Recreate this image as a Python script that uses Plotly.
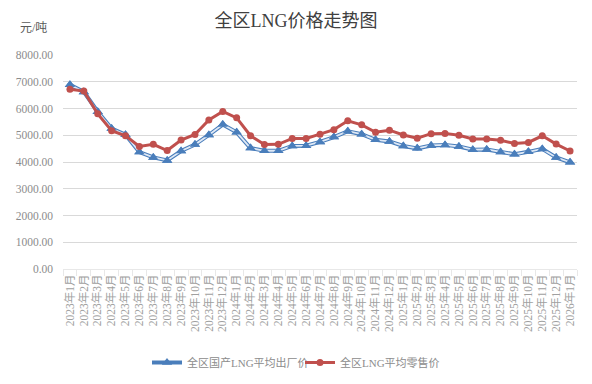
import plotly.graph_objects as go

months = [f"{y}年{m}月" for y, m in
          [(2023, i) for i in range(1, 13)] + [(2024, i) for i in range(1, 13)] +
          [(2025, i) for i in range(1, 13)] + [(2026, 1)]]

factory_price = [6890, 6620, 5880, 5250, 5020, 4370, 4170, 4060, 4410, 4650,
                 5010, 5400, 5110, 4520, 4420, 4420, 4600, 4610, 4750, 4930,
                 5150, 5040, 4830, 4770, 4600, 4510, 4620, 4640, 4580, 4460,
                 4470, 4370, 4290, 4380, 4490, 4170, 3990]
retail_price = [6720, 6650, 5800, 5170, 4980, 4580, 4660, 4430, 4820, 5030,
                5570, 5890, 5650, 4980, 4650, 4660, 4880, 4880, 5040, 5210,
                5540, 5390, 5110, 5190, 5010, 4890, 5060, 5070, 5000, 4860,
                4860, 4810, 4690, 4730, 4980, 4670, 4410]

name_factory = "全区国产LNG平均出厂价"
name_retail = "全区LNG平均零售价"
y_ticks = [0, 1000, 2000, 3000, 4000, 5000, 6000, 7000, 8000]

BLUE = "#4a7ebb"
RED = "#c0504d"
FONT = "Liberation Serif, Noto Sans CJK SC, serif"

ML, MR, MT, MB = 63, 15, 55, 115
PW, PH = 592 - ML - MR, 384 - MT - MB

fig = go.Figure()
fig.add_trace(go.Scatter(
    x=months, y=factory_price, name=name_factory, mode="lines+markers",
    line=dict(color=BLUE, width=4),
    marker=dict(symbol="triangle-up", size=9, color=BLUE),
    legendwidth=108,
))
fig.add_trace(go.Scatter(
    x=months, y=factory_price, mode="lines", showlegend=False, hoverinfo="skip",
    line=dict(color="#dfe9f6", width=1.8),
))
fig.add_trace(go.Scatter(
    x=months, y=factory_price, mode="markers", showlegend=False,
    marker=dict(symbol="triangle-up", size=9, color=BLUE),
))
fig.add_trace(go.Scatter(
    x=months, y=retail_price, name=name_retail, mode="lines+markers",
    line=dict(color=RED, width=3),
    marker=dict(symbol="circle", size=7, color=RED),
))

fig.update_layout(
    width=592, height=384,
    paper_bgcolor="white", plot_bgcolor="white",
    margin=dict(l=ML, r=MR, t=MT, b=MB),
    font=dict(family=FONT, color="#8c8c8c", size=11),
    title=dict(text="全区LNG价格走势图", x=0.5, xref="container", xanchor="center",
               y=1 - 21 / 384, yref="container", yanchor="middle",
               font=dict(size=18, color="#404040", family=FONT)),
    showlegend=True,
    legend=dict(orientation="h", xref="container", yref="container",
                x=0.5, xanchor="center", y=(384 - 362.5) / 384, yanchor="middle",
                font=dict(size=11, color="#8c8c8c", family=FONT),
                itemwidth=30, tracegroupgap=0),
    annotations=[dict(text="元/吨", xref="paper", yref="paper",
                      x=(33 - ML) / PW, y=(384 - MB - 28) / PH,
                      xanchor="center", yanchor="middle",
                      showarrow=False, font=dict(size=12, color="#595959", family=FONT))],
)
fig.update_xaxes(
    type="category", tickson="boundaries", ticks="outside", ticklen=6,
    tickcolor="#e8e8e8", showline=True, linecolor="#e8e8e8", showgrid=False,
    tickangle=-90, tickfont=dict(size=11.5, color="#a0a0a0", family=FONT),
    tickmode="array", tickvals=months, ticktext=months,
    range=[-0.5, len(months) - 0.5], automargin=False,
)
fig.update_yaxes(
    range=[0, 8000], tickvals=y_ticks, tickformat=".2f",
    showgrid=True, gridcolor="#d9d9d9", gridwidth=1, zeroline=False,
    showline=False, ticks="", ticklabelstandoff=9, automargin=False,
    tickfont=dict(size=11.5, color="#8c8c8c", family=FONT),
)

fig.write_html("out.html", config={"displayModeBar": False})
with open("out.html", encoding="utf-8") as f:
    html = f.read()
html = html.replace("<head>", "<head><style>html,body{margin:0;padding:0;}</style>", 1)
with open("out.html", "w", encoding="utf-8") as f:
    f.write(html)
